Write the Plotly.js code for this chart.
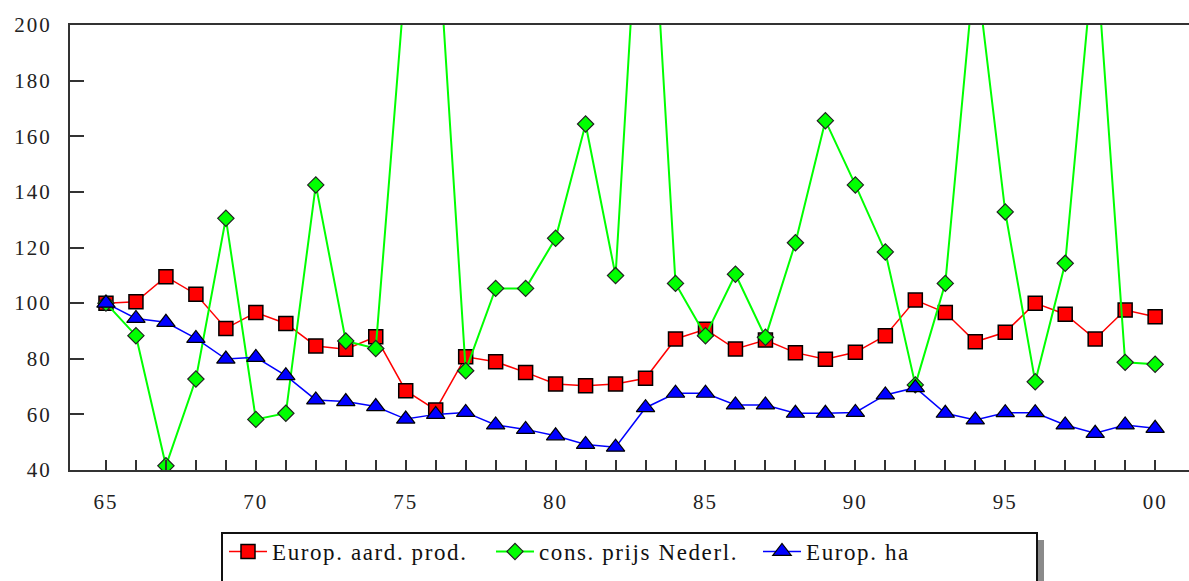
<!DOCTYPE html>
<html>
<head>
<meta charset="utf-8">
<script src="https://cdn.plot.ly/plotly-3.0.1.min.js"></script>
<style>
  html, body { margin: 0; padding: 0; background: #fff; }
  #chart { width: 1189px; height: 581px; }
  .xtick text, .ytick text { letter-spacing: 2px; }
  .legendtext { letter-spacing: 1.6px; }
</style>
</head>
<body>
<div id="chart"></div>
<script>
// ---- data ----
const years = [1965,1966,1967,1968,1969,1970,1971,1972,1973,1974,1975,1976,1977,1978,1979,1980,1981,1982,1983,1984,1985,1986,1987,1988,1989,1990,1991,1992,1993,1994,1995,1996,1997,1998,1999,2000];
const europAardProd = [100,100.5,109.5,103.2,90.9,96.6,92.7,84.6,83.4,87.9,68.5,61.6,80.7,78.9,75.1,70.9,70.3,70.9,73,87.1,90.6,83.5,86.7,82.2,79.8,82.3,88.3,101.1,96.6,86.1,89.5,100,96,87.1,97.5,95.1];
const consPrijsNederl = [100,88.3,41.5,72.7,130.5,58.2,60.4,142.5,86.4,83.7,219,245,75.7,105.3,105.3,123.3,164.4,109.9,290,107.1,88.3,110.4,87.7,121.7,165.6,142.5,118.4,70.6,107.1,223,132.8,71.7,114.3,231,78.7,78];
const europHa = [100,94.5,93.1,87.3,79.9,80.5,73.9,65.2,64.6,62.8,58.3,60,60.7,56.2,54.6,52.3,49.2,48.2,62.4,67.6,67.6,63.4,63.4,60.4,60.4,60.7,67,69.6,60.4,58,60.6,60.6,56.2,53.2,56.2,55];
const seriesNames = ['Europ. aard. prod.', 'cons. prijs Nederl.', 'Europ. ha'];
const xTickLabels = years.map(y => (y % 5 === 0 ? String(y).slice(2) : ''));
const yTickVals = [40,60,80,100,120,140,160,180,200];

// ---- layout geometry ----
const W = 1189, H = 581;
const mL = 70, mR = 0, mT = 25, mB = 111;
const pw = W - mL - mR, ph = H - mT - mB;
const px = x => (x - mL) / pw;
const py = y => -(y - (H - mB)) / ph;

const serif = 'Liberation Serif, Times New Roman, serif';

const traces = [
  {
    x: years, y: europAardProd, name: seriesNames[0], type: 'scatter', mode: 'lines+markers',
    line: {color: '#ff0000', width: 1.5},
    marker: {symbol: 'square', size: 14, color: '#ff0000', line: {color: '#000', width: 1.5}}
  },
  {
    x: years, y: consPrijsNederl, name: seriesNames[1], type: 'scatter', mode: 'lines+markers',
    line: {color: '#00ff00', width: 2},
    marker: {symbol: 'diamond', size: 12.5, color: '#00ff00', line: {color: '#222', width: 1.2}}
  },
  {
    x: years, y: europHa, name: seriesNames[2], type: 'scatter', mode: 'lines+markers',
    line: {color: '#0000ff', width: 1.5},
    marker: {symbol: 'triangle-up', size: 16, color: '#0000ff', line: {color: '#000', width: 1.2}}
  }
];

const layout = {
  width: W, height: H,
  margin: {l: mL, r: mR, t: mT, b: mB, autoexpand: false},
  paper_bgcolor: '#fff', plot_bgcolor: '#fff',
  showlegend: true,
  xaxis: {
    range: [1963.8, 2001.13],
    tickmode: 'array', tickvals: years, ticktext: xTickLabels,
    ticks: 'inside', ticklen: 10, tickwidth: 2, tickcolor: '#333',
    showline: true, linecolor: '#333', linewidth: 2, mirror: true,
    showgrid: false, zeroline: false,
    ticklabelstandoff: 12,
    tickfont: {family: serif, size: 21, color: '#222'}
  },
  yaxis: {
    range: [40, 200],
    tickmode: 'array', tickvals: yTickVals, ticktext: yTickVals.map(String),
    ticks: 'inside', ticklen: 14, tickwidth: 2, tickcolor: '#333',
    showline: true, linecolor: '#333', linewidth: 2,
    showgrid: false, zeroline: false,
    ticklabelstandoff: 12,
    tickfont: {family: serif, size: 21, color: '#222'}
  },
  legend: {
    orientation: 'h',
    x: px(224), xanchor: 'left',
    y: py(530), yanchor: 'top',
    bgcolor: 'rgba(0,0,0,0)', borderwidth: 0,
    entrywidth: 214, entrywidthmode: 'pixels',
    itemwidth: 38,
    font: {family: serif, size: 23, color: '#111'},
    itemclick: false
  },
  shapes: [
    {type: 'rect', xref: 'paper', yref: 'paper', x0: px(1037), x1: px(1044), y0: py(540), y1: py(640),
     fillcolor: '#8a8a8a', line: {width: 0}, layer: 'below'},
    {type: 'rect', xref: 'paper', yref: 'paper', x0: px(222), x1: px(1037), y0: py(533), y1: py(640),
     fillcolor: '#ffffff', line: {color: '#111', width: 2}, layer: 'below'}
  ]
};

Plotly.newPlot('chart', traces, layout, {staticPlot: true, displayModeBar: false});
</script>
</body>
</html>
